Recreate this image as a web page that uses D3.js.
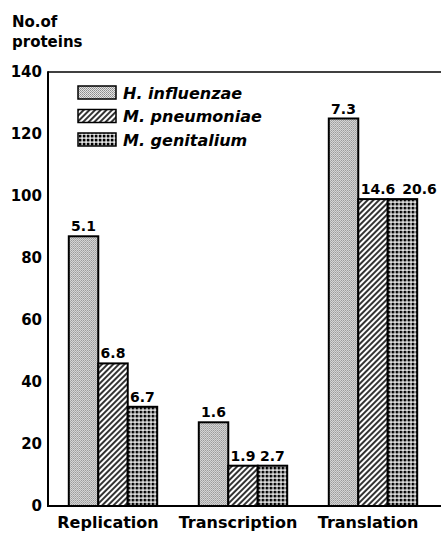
<!DOCTYPE html>
<html lang="en">
<head>
  <meta charset="utf-8">
  <title>No. of proteins by function</title>
  <style>
    html,body{margin:0;background:#fff}
    svg{display:block}
    text{font-family:"DejaVu Sans",sans-serif;font-weight:bold;fill:#000}
    .tick text{font-size:15px}
    .cat-label{font-size:16px}
    .val-label{font-size:14px}
    .legend-label{font-size:16px;font-style:italic}
    .title{font-size:15px}
  </style>
  <script src="https://d3js.org/d3.v7.min.js"></script>
</head>
<body>
  <svg id="chart" width="441" height="533"></svg>
  <script>
    // --- data ---
    const categories = ["Replication", "Transcription", "Translation"];
    const species = ["H. influenzae", "M. pneumoniae", "M. genitalium"];
    const hInfluenzae = [87, 27, 125];
    const mPneumoniae = [46, 13, 99];
    const mGenitalium = [32, 13, 99];
    // percentages printed above the bars
    const pctHInfluenzae = ["5.1", "1.6", "7.3"];
    const pctMPneumoniae = ["6.8", "1.9", "14.6"];
    const pctMGenitalium = ["6.7", "2.7", "20.6"];
    const yTicks = [0, 20, 40, 60, 80, 100, 120, 140];

    const series = [hInfluenzae, mPneumoniae, mGenitalium];
    const pcts = [pctHInfluenzae, pctMPneumoniae, pctMGenitalium];

    const mLeft = 48, mRight = 441, mTop = 72, mBottom = 506;

    const svg = d3.select('#chart');

    // --- fill patterns ---
    const defs = svg.append('defs');
    const dots = defs.append('pattern').attr('id', 'p0').attr('patternUnits', 'userSpaceOnUse')
      .attr('width', 2).attr('height', 2);
    dots.append('rect').attr('width', 2).attr('height', 2).attr('fill', '#e4e4e4');
    dots.append('rect').attr('width', 1).attr('height', 1).attr('fill', '#8a8a8a');
    dots.append('rect').attr('x', 1).attr('y', 1).attr('width', 1).attr('height', 1).attr('fill', '#a0a0a0');

    const hatch = defs.append('pattern').attr('id', 'p1').attr('patternUnits', 'userSpaceOnUse')
      .attr('width', 4).attr('height', 4).attr('patternTransform', 'rotate(45)');
    hatch.append('rect').attr('width', 4).attr('height', 4).attr('fill', '#fff');
    hatch.append('line').attr('x1', 1).attr('y1', 0).attr('x2', 1).attr('y2', 4)
      .attr('stroke', '#000').attr('stroke-width', 1.6);

    const grid = defs.append('pattern').attr('id', 'p2').attr('patternUnits', 'userSpaceOnUse')
      .attr('width', 4).attr('height', 4);
    grid.append('rect').attr('width', 4).attr('height', 4).attr('fill', '#000');
    grid.append('rect').attr('x', 0).attr('y', 1.5).attr('width', 4).attr('height', 1.2).attr('fill', '#fff');
    grid.append('rect').attr('x', 1.5).attr('y', 0).attr('width', 1.2).attr('height', 4).attr('fill', '#fff');

    // --- scales ---
    const x0 = d3.scaleBand().domain(categories).range([mLeft, 438]).paddingInner(0.32).paddingOuter(0.16);
    const x1 = d3.scaleBand().domain(d3.range(species.length)).range([0, x0.bandwidth()]);
    const y = d3.scaleLinear().domain([0, 140]).range([mBottom, mTop]);

    // --- y axis labels (no tick marks) ---
    svg.append('g').attr('transform', `translate(${mLeft},0)`)
      .call(d3.axisLeft(y).tickValues(yTicks).tickSize(0).tickPadding(6))
      .call(g => g.select('.domain').remove())
      .selectAll('text').attr('dy', '0.3em');

    // --- bars ---
    const nudge = {"2-1": 5, "2-2": 17}; // labels shifted right to avoid overlap
    categories.forEach((c, ci) => {
      const g = svg.append('g').attr('transform', `translate(${x0(c)},0)`);
      series.forEach((s, si) => {
        g.append('rect')
          .attr('x', x1(si)).attr('y', y(s[ci]))
          .attr('width', x1.bandwidth()).attr('height', y(0) - y(s[ci]))
          .attr('fill', `url(#p${si})`).attr('stroke', '#000').attr('stroke-width', 2);
        g.append('text').attr('class', 'val-label')
          .attr('x', x1(si) + x1.bandwidth() / 2 + (nudge[ci + '-' + si] || 0))
          .attr('y', y(s[ci]) - 5)
          .attr('text-anchor', 'middle')
          .text(pcts[si][ci]);
      });
    });

    // --- frame ---
    svg.append('line').attr('x1', mLeft).attr('x2', mRight).attr('y1', mTop).attr('y2', mTop)
      .attr('stroke', '#000').attr('stroke-width', 1.5);
    svg.append('line').attr('x1', mLeft).attr('x2', mLeft).attr('y1', mTop - 0.75).attr('y2', mBottom + 1)
      .attr('stroke', '#000').attr('stroke-width', 2);
    svg.append('line').attr('x1', mLeft - 1).attr('x2', mRight).attr('y1', mBottom).attr('y2', mBottom)
      .attr('stroke', '#000').attr('stroke-width', 2);

    // --- category labels ---
    svg.selectAll('.cat-label').data(categories).enter().append('text')
      .attr('class', 'cat-label')
      .attr('x', d => x0(d) + x0.bandwidth() / 2 - 5)
      .attr('y', 528)
      .attr('text-anchor', 'middle')
      .text(d => d);

    // --- legend ---
    const lg = svg.append('g');
    species.forEach((sp, i) => {
      const ly = 86 + i * 23.5;
      lg.append('rect').attr('x', 78).attr('y', ly).attr('width', 38).attr('height', 13)
        .attr('fill', `url(#p${i})`).attr('stroke', '#000').attr('stroke-width', 1.5);
      lg.append('text').attr('class', 'legend-label').attr('x', 123).attr('y', ly + 12.5).text(sp);
    });

    // --- axis title ---
    svg.append('text').attr('class', 'title').attr('x', 12).attr('y', 27).text('No.of');
    svg.append('text').attr('class', 'title').attr('x', 12).attr('y', 47).text('proteins');
  </script>
</body>
</html>
